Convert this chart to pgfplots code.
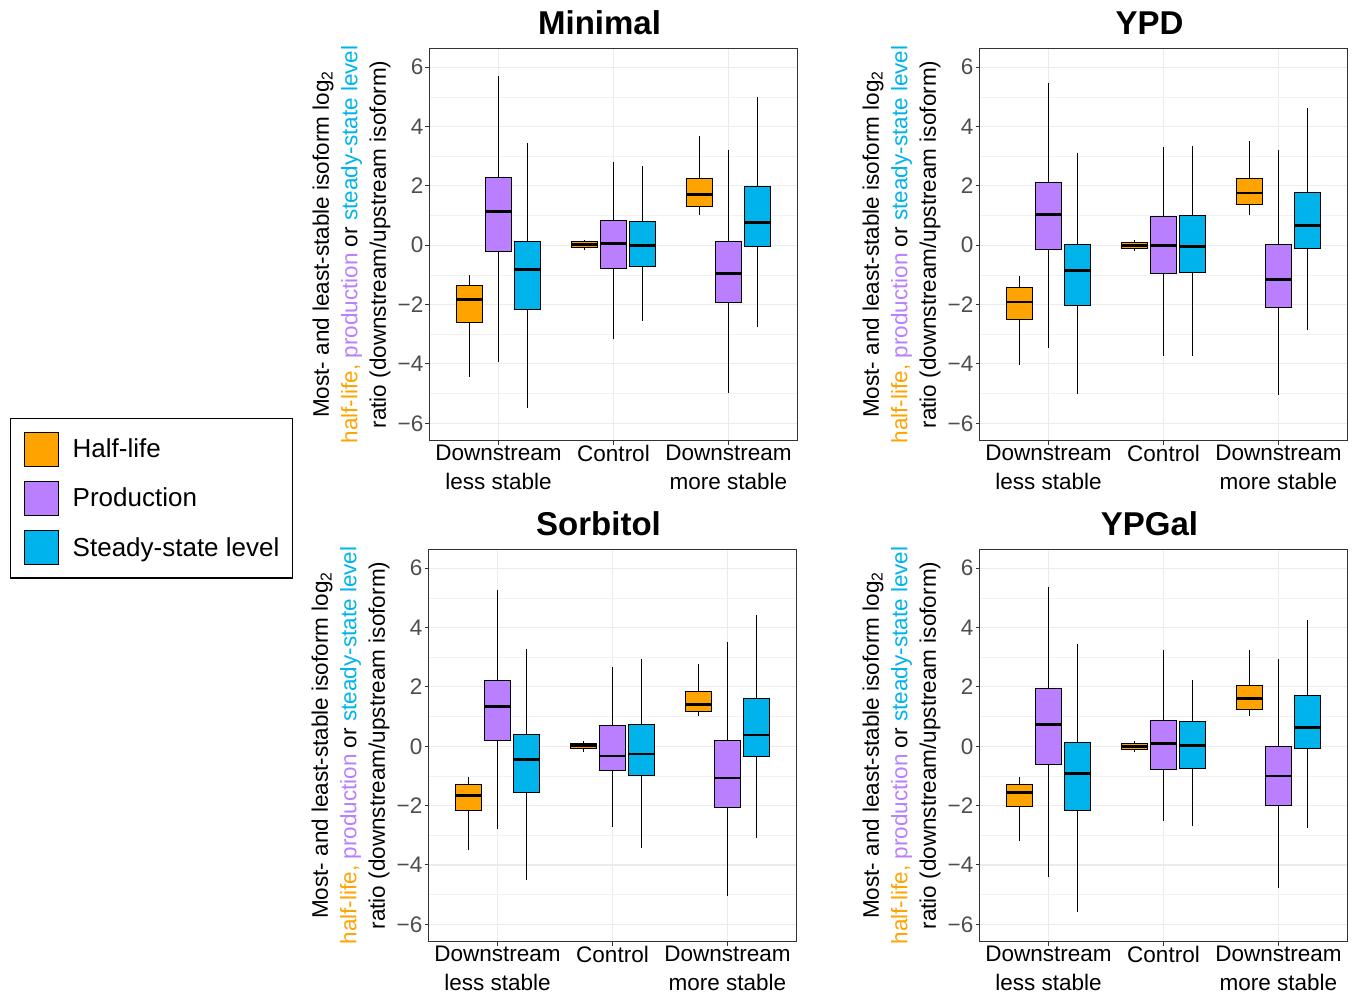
\documentclass[border=0pt]{standalone}
\usepackage{fontspec}
\setmainfont{Liberation Sans}
\usepackage{pgfplots}
\pgfplotsset{compat=1.18}
\usepgfplotslibrary{statistics}
\definecolor{hl}{HTML}{FFA300}
\definecolor{pr}{HTML}{B97FFF}
\definecolor{ss}{HTML}{00B4EB}
\definecolor{gridc}{HTML}{EBEBEB}
\definecolor{g20}{HTML}{333333}
\definecolor{g30}{HTML}{4D4D4D}

% color, position, lower whisker, lower quartile, median, upper quartile, upper whisker
\newcommand{\bx}[7]{\addplot[boxplot prepared={draw position=#2, lower whisker=#3, lower quartile=#4, median=#5, upper quartile=#6, upper whisker=#7}, fill=#1, draw=black, line width=1pt] coordinates {};}

\pgfplotsset{
  sq legend/.style={legend image code/.code={\draw[##1] (0pt,-17pt) rectangle (34pt,17pt);}},
  panel/.style={
    scale only axis, width=368pt, height=392pt,
    xmin=0.4, xmax=3.6, ymin=-6.58, ymax=6.63,
    xtick={1,2,3}, xticklabels={{Downstream\\less stable},{Control},{Downstream\\more stable}},
    ytick={-6,-4,-2,0,2,4,6}, yticklabels={−6,−4,−2,0,2,4,6},
    minor ytick={-5,-3,-1,1,3,5},
    xtick pos=bottom, ytick pos=left,
    grid=both,
    major grid style={draw=gridc, line width=1.1pt},
    minor grid style={draw=gridc!70!white, line width=0.6pt},
    minor tick length=0pt, major tick length=4pt, tick align=outside,
    tick style={draw=g20, line width=1pt},
    axis line style={draw=g20, line width=1pt},
    xticklabel style={align=center, font=\fontsize{22.5}{29}\selectfont, text=black, inner sep=0pt, yshift=0pt},
    yticklabel style={font=\fontsize{22.5}{27}\selectfont, text=g30, inner sep=0pt, xshift=-2pt},
    ylabel={Most- and least-stable isoform log\textsubscript{2}\\\textcolor{hl}{half-life,} \textcolor{pr}{production} or \textcolor{ss}{steady-state level}\\ratio (downstream/upstream isoform)},
    ylabel style={at={(axis description cs:-0.212,0.5)}, anchor=center, align=center, font=\fontsize{22.5}{28.5}\selectfont},
    title style={at={(axis description cs:0.462,1.0217)}, anchor=base, font=\bfseries\fontsize{33}{33}\selectfont},
    boxplot/draw direction=y,
    boxplot/box extend=0.225, boxplot/whisker extend=0,
    boxplot/every median/.style={line width=2.8pt},
  }
}

\begin{document}
\begin{tikzpicture}
\path[use as bounding box] (0pt,0pt) rectangle (1355pt,-1001pt);

% ---------------- Minimal ----------------
\begin{axis}[panel, at={(429.5pt,-440.5pt)}, anchor=south west, title={Minimal},
  legend style={at={(-1.1400,0.0574)}, anchor=north west, draw=black, line width=1.3pt, fill=white,
    font=\fontsize{26}{26}\selectfont, inner xsep=13pt, inner ysep=13pt, row sep=14pt, column sep=14pt,
    nodes={inner sep=0pt}},
  legend cell align=left]
\addlegendimage{sq legend, fill=hl, draw=black, line width=1.1pt}
\addlegendentry{Half-life}
\addlegendimage{sq legend, fill=pr, draw=black, line width=1.1pt}
\addlegendentry{Production}
\addlegendimage{sq legend, fill=ss, draw=black, line width=1.1pt}
\addlegendentry{Steady-state level}
\bx{hl}{0.75}{-4.43}{-2.61}{-1.84}{-1.34}{-1.01}
\bx{pr}{1.00}{-3.95}{-0.22}{1.13}{2.30}{5.70}
\bx{ss}{1.25}{-5.50}{-2.15}{-0.83}{0.12}{3.43}
\bx{hl}{1.75}{-0.17}{-0.07}{0.03}{0.11}{0.19}
\bx{pr}{2.00}{-3.17}{-0.77}{0.05}{0.83}{2.82}
\bx{ss}{2.25}{-2.55}{-0.70}{0.00}{0.79}{2.68}
\bx{hl}{2.75}{1.01}{1.29}{1.70}{2.24}{3.67}
\bx{pr}{3.00}{-4.97}{-1.93}{-0.96}{0.14}{3.20}
\bx{ss}{3.25}{-2.76}{-0.03}{0.78}{1.99}{5.00}
\end{axis}

% ---------------- YPD ----------------
\begin{axis}[panel, at={(979.5pt,-440.5pt)}, anchor=south west, title={YPD}]
\bx{hl}{0.75}{-4.04}{-2.49}{-1.91}{-1.43}{-1.03}
\bx{pr}{1.00}{-3.46}{-0.15}{1.04}{2.11}{5.46}
\bx{ss}{1.25}{-5.01}{-2.04}{-0.85}{0.03}{3.11}
\bx{hl}{1.75}{-0.19}{-0.12}{-0.01}{0.08}{0.18}
\bx{pr}{2.00}{-3.72}{-0.95}{0.00}{0.98}{3.31}
\bx{ss}{2.25}{-3.74}{-0.93}{-0.04}{0.99}{3.36}
\bx{hl}{2.75}{1.01}{1.39}{1.76}{2.24}{3.50}
\bx{pr}{3.00}{-5.03}{-2.11}{-1.15}{0.03}{3.22}
\bx{ss}{3.25}{-2.84}{-0.12}{0.66}{1.78}{4.62}
\end{axis}

% ---------------- Sorbitol ----------------
\begin{axis}[panel, at={(428.5pt,-941.5pt)}, anchor=south west, title={Sorbitol}]
\bx{hl}{0.75}{-3.51}{-2.17}{-1.67}{-1.30}{-1.02}
\bx{pr}{1.00}{-2.79}{0.20}{1.35}{2.23}{5.26}
\bx{ss}{1.25}{-4.52}{-1.55}{-0.45}{0.41}{3.27}
\bx{hl}{1.75}{-0.18}{-0.09}{0.03}{0.10}{0.18}
\bx{pr}{2.00}{-2.71}{-0.83}{-0.33}{0.70}{2.66}
\bx{ss}{2.25}{-3.44}{-1.00}{-0.26}{0.73}{2.95}
\bx{hl}{2.75}{1.01}{1.17}{1.41}{1.84}{2.76}
\bx{pr}{3.00}{-5.04}{-2.07}{-1.07}{0.19}{3.53}
\bx{ss}{3.25}{-3.08}{-0.36}{0.38}{1.61}{4.41}
\end{axis}

% ---------------- YPGal ----------------
\begin{axis}[panel, at={(979.5pt,-941.5pt)}, anchor=south west, title={YPGal}]
\bx{hl}{0.75}{-3.19}{-2.03}{-1.56}{-1.28}{-1.02}
\bx{pr}{1.00}{-4.40}{-0.60}{0.72}{1.94}{5.36}
\bx{ss}{1.25}{-5.60}{-2.17}{-0.92}{0.13}{3.46}
\bx{hl}{1.75}{-0.19}{-0.12}{-0.02}{0.08}{0.18}
\bx{pr}{2.00}{-2.51}{-0.80}{0.10}{0.86}{3.26}
\bx{ss}{2.25}{-2.68}{-0.74}{0.03}{0.83}{2.23}
\bx{hl}{2.75}{1.01}{1.25}{1.61}{2.05}{3.26}
\bx{pr}{3.00}{-4.76}{-2.00}{-1.00}{-0.01}{2.93}
\bx{ss}{3.25}{-2.74}{-0.09}{0.63}{1.70}{4.24}
\end{axis}
\end{tikzpicture}
\end{document}
